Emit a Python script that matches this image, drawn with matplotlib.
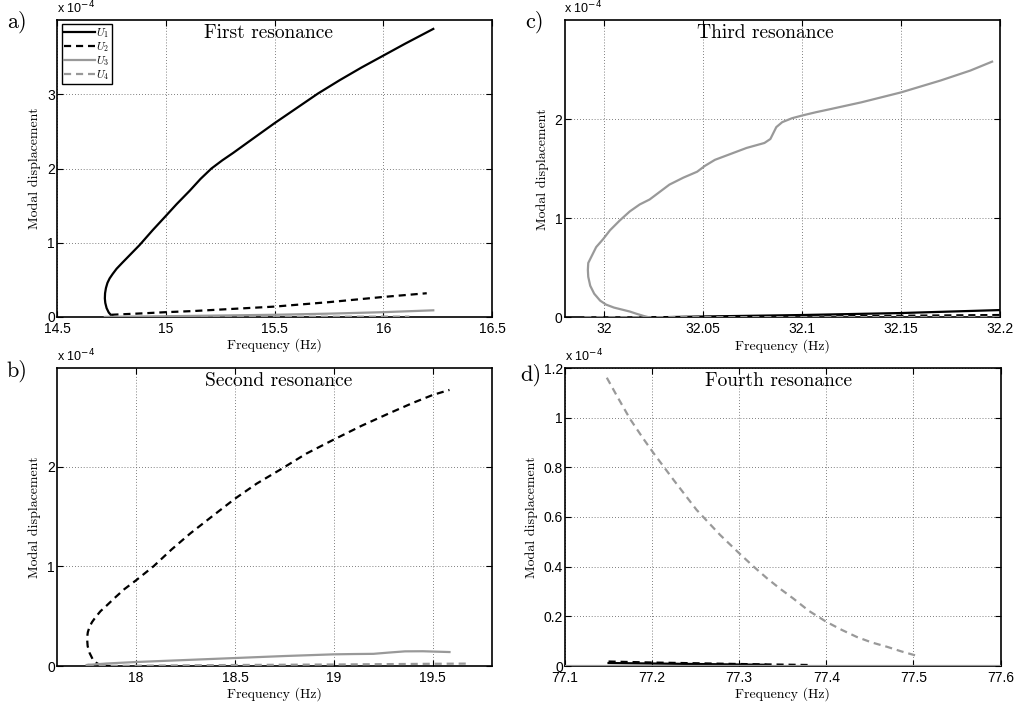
import matplotlib
matplotlib.use("Agg")
import matplotlib.pyplot as plt

plt.rcParams['mathtext.fontset'] = 'cm'
plt.rcParams['font.family'] = ['Liberation Sans', 'DejaVu Sans']

# values are in units of 1e-4 (modal displacement)
# a) first resonance
a_u1_f = [14.762, 14.75, 14.738, 14.728, 14.722, 14.72, 14.721, 14.725, 14.732, 14.742, 14.756,
          14.774, 14.80, 14.84, 14.88, 14.94, 15.0, 15.05, 15.11, 15.16, 15.21, 15.26, 15.31,
          15.40, 15.50, 15.60, 15.70, 15.80, 15.90, 16.0, 16.1, 16.23]
a_u1_y = [0.0, 0.02, 0.06, 0.12, 0.19, 0.25, 0.32, 0.39, 0.46, 0.52, 0.58,
          0.65, 0.73, 0.85, 0.97, 1.17, 1.36, 1.52, 1.70, 1.86, 2.0, 2.11, 2.21,
          2.40, 2.61, 2.81, 3.01, 3.19, 3.36, 3.52, 3.68, 3.88]
a_u2_f = [14.75, 14.9, 15.0, 15.125, 15.25, 15.375, 15.5, 15.625, 15.75, 15.875, 16.0, 16.1, 16.2]
a_u2_y = [0.03, 0.05, 0.065, 0.08, 0.10, 0.12, 0.14, 0.17, 0.20, 0.235, 0.27, 0.295, 0.32]
a_u3_f = [14.72, 15.0, 15.25, 15.5, 15.75, 16.0, 16.23]
a_u3_y = [0.0, 0.01, 0.02, 0.03, 0.045, 0.065, 0.09]
a_u4_f = [14.72, 15.5, 16.12]
a_u4_y = [0.0, 0.003, 0.006]

# b) second resonance
b_u1_f = [17.76, 17.83, 17.87]
b_u1_y = [0.01, 0.005, 0.0]
b_u2_f = [17.827, 17.80, 17.78, 17.765, 17.755, 17.752, 17.756, 17.764, 17.777, 17.795,
          17.82, 17.853, 17.89, 17.94, 18.0, 18.088, 18.18, 18.274, 18.39, 18.501, 18.61,
          18.729, 18.86, 18.998, 19.14, 19.285, 19.40, 19.501, 19.585]
b_u2_y = [0.0, 0.03, 0.07, 0.13, 0.20, 0.28, 0.34, 0.39, 0.44, 0.49,
          0.55, 0.61, 0.68, 0.77, 0.86, 1.0, 1.17, 1.33, 1.51, 1.68, 1.83,
          1.97, 2.13, 2.27, 2.41, 2.54, 2.64, 2.72, 2.77]
b_u3_f = [17.75, 17.85, 18.0, 18.25, 18.5, 18.75, 19.0, 19.1, 19.2, 19.28, 19.36, 19.45, 19.585]
b_u3_y = [0.01, 0.025, 0.04, 0.06, 0.08, 0.10, 0.117, 0.12, 0.122, 0.135, 0.147, 0.148, 0.14]
b_u4_f = [17.75, 18.5, 19.0, 19.5, 19.68]
b_u4_y = [0.0, 0.01, 0.015, 0.022, 0.024]

# c) third resonance
c_u1_f = [32.02, 32.05, 32.1, 32.15, 32.2]
c_u1_y = [0.0, 0.01, 0.025, 0.045, 0.075]
c_u2_f = [31.99, 32.1, 32.2]
c_u2_y = [0.0, 0.01, 0.025]
c_u3_f = [32.022, 32.0199, 32.016, 32.013, 32.009, 32.005, 32.001, 31.998, 31.995, 31.993,
          31.992, 31.9918, 31.992, 31.994, 31.996, 31.9995, 32.003, 32.008, 32.013, 32.018,
          32.023, 32.027, 32.033, 32.04, 32.047, 32.051, 32.056, 32.064, 32.072, 32.081,
          32.084, 32.0855, 32.087, 32.09, 32.095, 32.1007, 32.107, 32.114, 32.13, 32.15,
          32.17, 32.185, 32.196]
c_u3_y = [0.005, 0.016, 0.04, 0.06, 0.08, 0.10, 0.13, 0.17, 0.24, 0.32,
          0.41, 0.48, 0.55, 0.63, 0.71, 0.79, 0.88, 0.98, 1.07, 1.14,
          1.19, 1.25, 1.34, 1.41, 1.47, 1.53, 1.59, 1.65, 1.71, 1.76,
          1.80, 1.86, 1.92, 1.97, 2.01, 2.04, 2.07, 2.10, 2.17, 2.27,
          2.39, 2.49, 2.58]
c_u4_f = [31.99, 32.2]
c_u4_y = [0.003, 0.005]

# d) fourth resonance
d_u1_f = [77.15, 77.2, 77.25, 77.3, 77.33]
d_u1_y = [0.012, 0.010, 0.008, 0.006, 0.005]
d_u2_f = [77.15, 77.2, 77.3, 77.38]
d_u2_y = [0.018, 0.014, 0.008, 0.004]
d_u3_f = [77.1, 77.6]
d_u3_y = [0.002, 0.002]
d_u4_f = [77.148, 77.16, 77.175, 77.19, 77.2015, 77.2245, 77.251, 77.278, 77.300, 77.316,
          77.332, 77.347, 77.362, 77.38, 77.400, 77.418, 77.435, 77.452, 77.470, 77.486, 77.502]
d_u4_y = [1.161, 1.085, 0.993, 0.915, 0.858, 0.750, 0.629, 0.528, 0.454, 0.402,
          0.353, 0.311, 0.272, 0.222, 0.178, 0.145, 0.117, 0.095, 0.077, 0.059, 0.043]

GRAY = '#999999'
DASH = (0, (3.2, 2.2))

W, H = 1016, 711
fig = plt.figure(figsize=(W / 100, H / 100), dpi=100)


def make_axes(left, top, right, bottom):
    return fig.add_axes([left / W, (H - bottom) / H, (right - left) / W, (bottom - top) / H])


def style(ax, xlim, xticks, ylim, yticks, yticklabels, title, title_x, letter, letter_xy):
    ax.set_xlim(*xlim)
    ax.set_ylim(*ylim)
    ax.set_xticks(xticks)
    ax.set_xticklabels([('%g' % t) for t in xticks])
    ax.set_yticks(yticks)
    ax.set_yticklabels(yticklabels)
    ax.tick_params(direction='in', length=4, width=0.8, top=True, right=True,
                   labelsize=10, pad=1.5, colors='black')
    ax.tick_params(axis='x', pad=3.5)
    for s in ax.spines.values():
        s.set_linewidth(1.2)
    ax.grid(True, linestyle=(0, (1, 2.5)), color='#555555', linewidth=0.6)
    ax.set_xlabel('Frequency (Hz)', fontfamily='cmr10', fontsize=10, labelpad=2)
    ax.set_ylabel('Modal displacement', fontfamily='cmr10', fontsize=10, labelpad=4)
    ax.text(title_x, 0.985, title, transform=ax.transAxes, ha='center', va='top',
            fontfamily='cmr10', fontsize=14)
    ax.text(0.0, 1.012, r'x 10$^{-4}$', transform=ax.transAxes, ha='left', va='bottom',
            fontsize=9, math_fontfamily='dejavusans')
    fig.text(letter_xy[0] / W, 1 - letter_xy[1] / H, letter, ha='center', va='center',
             fontfamily='cmr10', fontsize=16)


def draw(ax, u1, u2, u3, u4):
    h1, = ax.plot(u1[0], u1[1], color='black', lw=1.6, label=r'$U_1$', zorder=3)
    h2, = ax.plot(u2[0], u2[1], color='black', lw=1.6, linestyle=DASH, label=r'$U_2$', zorder=3)
    h3, = ax.plot(u3[0], u3[1], color=GRAY, lw=1.6, label=r'$U_3$', zorder=3)
    h4, = ax.plot(u4[0], u4[1], color=GRAY, lw=1.6, linestyle=DASH, label=r'$U_4$', zorder=3)
    return [h1, h2, h3, h4]


# a)
ax_a = make_axes(57, 20, 492, 317)
handles = draw(ax_a, (a_u1_f, a_u1_y), (a_u2_f, a_u2_y), (a_u3_f, a_u3_y), (a_u4_f, a_u4_y))
style(ax_a, (14.5, 16.5), [14.5, 15, 15.5, 16, 16.5], (0, 4.0), [0, 1, 2, 3],
      ['0', '1', '2', '3'], 'First resonance', 0.485, 'a)', (17, 22))
leg = ax_a.legend(handles=handles, loc='upper left', bbox_to_anchor=(0.0115, 0.9865),
                  fontsize=8, handlelength=2.8, handletextpad=0.1, labelspacing=0.0,
                  borderpad=0.2, borderaxespad=0, fancybox=False, framealpha=1)
leg.get_frame().set_edgecolor('black')
leg.get_frame().set_linewidth(1.0)
leg.set_zorder(5)

# c)
ax_c = make_axes(564.5, 20, 1000, 317.5)
draw(ax_c, (c_u1_f, c_u1_y), (c_u2_f, c_u2_y), (c_u3_f, c_u3_y), (c_u4_f, c_u4_y))
style(ax_c, (31.98, 32.2), [32, 32.05, 32.1, 32.15, 32.2], (0, 3.0), [0, 1, 2],
      ['0', '1', '2'], 'Third resonance', 0.46, 'c)', (535, 22))

# b)
ax_b = make_axes(57, 368, 492, 666)
draw(ax_b, (b_u1_f, b_u1_y), (b_u2_f, b_u2_y), (b_u3_f, b_u3_y), (b_u4_f, b_u4_y))
style(ax_b, (17.6, 19.8), [18, 18.5, 19, 19.5], (0, 2.99), [0, 1, 2],
      ['0', '1', '2'], 'Second resonance', 0.51, 'b)', (17, 371))

# d)
ax_d = make_axes(565, 368, 1000.5, 666)
draw(ax_d, (d_u1_f, d_u1_y), (d_u2_f, d_u2_y), (d_u3_f, d_u3_y), (d_u4_f, d_u4_y))
style(ax_d, (77.1, 77.6), [77.1, 77.2, 77.3, 77.4, 77.5, 77.6], (0, 1.2),
      [0, 0.2, 0.4, 0.6, 0.8, 1.0, 1.2], ['0', '0.2', '0.4', '0.6', '0.8', '1', '1.2'],
      'Fourth resonance', 0.49, 'd)', (531, 375))

fig.savefig('out.png', dpi=100)
